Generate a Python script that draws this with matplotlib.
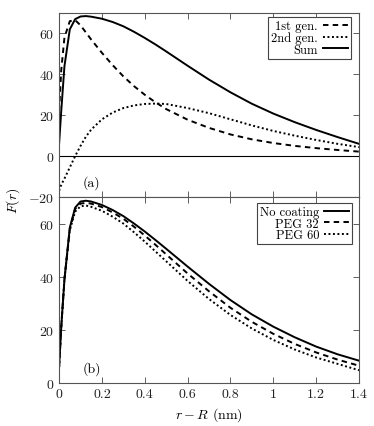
import numpy as np
import matplotlib
matplotlib.use("Agg")
import matplotlib.pyplot as plt

plt.rcParams['font.family'] = 'serif'
plt.rcParams['font.serif'] = ['cmr10']
plt.rcParams['mathtext.fontset'] = 'cm'
plt.rcParams['axes.formatter.use_mathtext'] = True

# distance r - R (nm)
x = [0, 0.01, 0.025, 0.05, 0.075, 0.1, 0.125, 0.15, 0.2, 0.25, 0.3, 0.35,
     0.4, 0.45, 0.5, 0.6, 0.7, 0.8, 0.9, 1.0, 1.1, 1.2, 1.3, 1.4]

# panel (a)
first_gen = [22, 42, 58, 66, 66.5, 64, 60.5, 57, 50.5, 44.5, 39, 34.2,
             30, 26.3, 23, 17.8, 13.8, 10.6, 8.2, 6.4, 5.0, 3.9, 3.0, 2.2]
second_gen = [-17, -14, -11, -5.5, 0, 5, 9.5, 13, 18, 21.3, 23.5, 24.8,
              25.5, 25.7, 25.5, 23.5, 21, 18, 15, 12.3, 10, 7.9, 6, 4.4]
total = [6, 22, 44, 62, 67, 68.3, 68.5, 68.2, 67.2, 65.6, 63.5, 60.8,
         57.8, 54.6, 51.2, 44.2, 37.4, 31.2, 25.6, 20.8, 16.6, 12.8, 9.3, 6]

# panel (b)
no_coating = [6, 21, 39, 58.5, 66, 68.3, 68.6, 68.3, 67, 65.1, 62.8, 60,
              57, 53.8, 50.5, 43.8, 37.3, 31.2, 25.8, 21.2, 17.2, 13.7, 10.8, 8.4]
peg32 = [6, 21, 39, 58, 65.5, 67.5, 67.8, 67.5, 66.2, 64.2, 61.8, 58.8,
         55.5, 52, 48.4, 41.2, 34.5, 28.3, 23, 18.5, 14.7, 11.5, 8.8, 6.5]
peg60 = [6, 21, 39, 57.5, 64.5, 66.5, 66.8, 66.3, 64.8, 62.6, 60, 56.7,
         53.2, 49.5, 45.8, 38.4, 31.6, 25.6, 20.5, 16.2, 12.6, 9.6, 7.2, 4.8]

dash = (0, (2.8, 2.2))
dot = (0, (1.0, 1.3))
lw = 1.4

fig = plt.figure(figsize=(3.74, 4.27), dpi=100)
ax1 = fig.add_axes([0.158, 0.5363, 0.802, 0.4309])
ax2 = fig.add_axes([0.158, 0.1007, 0.802, 0.4356])

ax1.plot(x, first_gen, color='black', lw=lw, linestyle=dash, label='1st gen.')
ax1.plot(x, second_gen, color='black', lw=lw, linestyle=dot, label='2nd gen.')
ax1.plot(x, total, color='black', lw=lw, label='Sum')
ax1.axhline(0, color='black', lw=0.8)
ax1.set_ylim(-20, 70)
ax1.set_yticks([-20, 0, 20, 40, 60])
ax1.tick_params(labelbottom=False)
ax1.text(0.08, 0.06, '(a)', transform=ax1.transAxes, fontsize=10)

ax2.plot(x, no_coating, color='black', lw=lw, label='No coating')
ax2.plot(x, peg32, color='black', lw=lw, linestyle=dash, label='PEG 32')
ax2.plot(x, peg60, color='black', lw=lw, linestyle=dot, label='PEG 60')
ax2.set_ylim(0, 70)
ax2.set_yticks([0, 20, 40, 60])
ax2.text(0.08, 0.06, '(b)', transform=ax2.transAxes, fontsize=10)
ax2.set_xlabel(r'$r - R$ (nm)', fontsize=10)

anchors = {ax1: (0.973, 0.978), ax2: (0.977, 0.968)}
for ax in (ax1, ax2):
    ax.set_xlim(0, 1.4)
    ax.set_xticks([0, 0.2, 0.4, 0.6, 0.8, 1, 1.2, 1.4])
    ax.set_xticklabels(['0', '0.2', '0.4', '0.6', '0.8', '1', '1.2', '1.4'])
    ax.tick_params(direction='in', top=True, right=True, length=4,
                   width=0.6, labelsize=10, colors='#444444', labelcolor='#222222')
    for s in ax.spines.values():
        s.set_color('#555555')
        s.set_linewidth(0.8)
    leg = ax.legend(loc='upper right', bbox_to_anchor=anchors[ax],
                    markerfirst=False, fontsize=9,
                    fancybox=False, edgecolor='#444444', framealpha=1,
                    handlelength=2.0, handletextpad=0.4, borderpad=0.25,
                    labelspacing=-0.05, borderaxespad=0)
    leg.get_frame().set_linewidth(0.8)
    for t in leg.get_texts():
        t.set_ha('right')

fig.text(0.035, 0.53, r'$F(r)$', rotation=90, fontsize=10, ha='center', va='center')

fig.savefig('out.png', dpi=100)
